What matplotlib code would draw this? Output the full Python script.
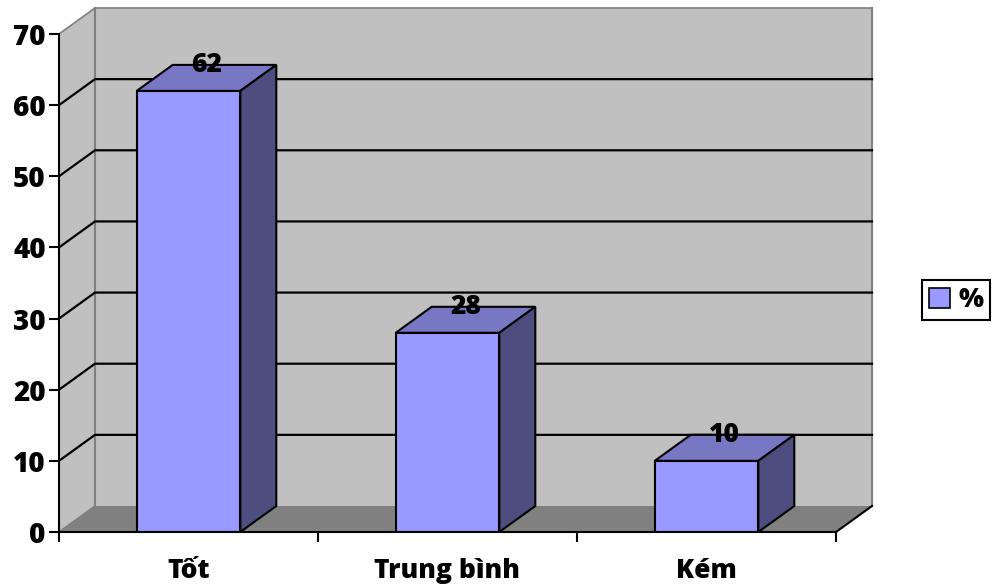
import numpy as np
import matplotlib.pyplot as plt
from matplotlib.patches import Polygon, Patch

plt.rcParams['font.family'] = ['Open Sans', 'DejaVu Sans']
plt.rcParams['font.weight'] = 'bold'

categories = ['Tốt', 'Trung bình', 'Kém']
values = [62, 28, 10]
series_name = '%'
y_ticks = [0, 10, 20, 30, 40, 50, 60, 70]

# colours of the pseudo 3d column chart
wall_col = '#c0c0c0'
floor_col = '#808080'
edge_gray = '#808080'
front_col = '#9999ff'
top_col = '#7777c4'
side_col = '#4d4d80'

fig = plt.figure(figsize=(9.98, 5.86), dpi=100)
ax = fig.add_axes([59 / 998, 54 / 586, 777 / 998, 498 / 586])
x0, x1 = -0.5, len(categories) - 0.5
y0, y1 = 0, 70
ax.set_xlim(x0, x1)
ax.set_ylim(y0, y1)
ax.patch.set_visible(False)

# depth offset in data units
dx = 36 / 259
dy = 26 / 498 * 70
bw = 0.4


def poly(pts, fc, ec='none', lw=0, z=1):
    p = Polygon(pts, closed=True, facecolor=fc, edgecolor=ec, linewidth=lw,
                zorder=z, clip_on=False, joinstyle='miter')
    ax.add_patch(p)


# back wall, side wall, floor
poly([(x0 + dx, y0 + dy), (x1 + dx, y0 + dy), (x1 + dx, y1 + dy), (x0 + dx, y1 + dy)], wall_col, z=0.5)
poly([(x0, y0), (x0 + dx, y0 + dy), (x0 + dx, y1 + dy), (x0, y1)], wall_col, z=0.5)
poly([(x0, y0), (x1, y0), (x1 + dx, y0 + dy), (x0 + dx, y0 + dy)], floor_col, z=0.6)

# wall edges
ax.plot([x0 + dx, x0 + dx], [y0 + dy, y1 + dy], color=edge_gray, lw=1.5, zorder=0.7, clip_on=False)
ax.plot([x1 + dx, x1 + dx], [y0 + dy, y1 + dy], color=edge_gray, lw=1.5, zorder=0.7, clip_on=False)
ax.plot([x0, x0 + dx, x1 + dx], [y1, y1 + dy, y1 + dy], color=edge_gray, lw=1.2, zorder=0.7, clip_on=False)
ax.plot([x0, x0 + dx], [y0, y0 + dy], color=edge_gray, lw=1.2, zorder=0.7, clip_on=False)
ax.plot([x1, x1 + dx], [y0, y0 + dy], color='black', lw=1.5, zorder=0.7, clip_on=False)

# gridlines on side and back walls
for t in y_ticks[1:-1]:
    ax.plot([x0, x0 + dx, x1 + dx], [t, t + dy, t + dy], color='black', lw=1.6,
            zorder=0.8, clip_on=False)

# columns: front face, top and side
xs = np.arange(len(categories))
ax.bar(xs, values, width=bw, color=front_col, edgecolor='black', linewidth=1.5, zorder=3)
for x, v in zip(xs, values):
    l, r = x - bw / 2, x + bw / 2
    poly([(l, v), (l + dx, v + dy), (r + dx, v + dy), (r, v)], top_col, 'black', 1.5, 2.5)
    poly([(r, 0), (r + dx, dy), (r + dx, v + dy), (r, v)], side_col, 'black', 1.5, 2.5)
    ax.text(x + dx / 2, v + dy, str(v), ha='center', va='center', fontsize=19,
            fontweight='heavy', zorder=5)

# axes
for s in ['top', 'right']:
    ax.spines[s].set_visible(False)
ax.spines['left'].set_linewidth(1.5)
ax.spines['bottom'].set_linewidth(1.5)
ax.spines['left'].set_zorder(4)
ax.spines['bottom'].set_zorder(4)

ax.set_yticks(y_ticks)
ax.set_yticklabels([str(t) for t in y_ticks], fontweight='heavy')
ax.tick_params(axis='y', length=7, width=1.5, pad=2.5, labelsize=20)
ax.set_xticks(np.arange(len(categories) + 1) - 0.5)
ax.set_xticklabels([])
ax.tick_params(axis='x', which='major', length=7, width=1.5)
ax.set_xticks(xs, minor=True)
ax.set_xticklabels(categories, minor=True, fontsize=19, fontweight='heavy')
ax.tick_params(axis='x', which='minor', length=0, pad=19)

leg = fig.legend(handles=[Patch(facecolor=front_col, edgecolor='black', linewidth=1.2)],
                 labels=[series_name], loc='center', bbox_to_anchor=(956 / 998, 1 - 300 / 586),
                 fancybox=False, framealpha=1, edgecolor='black',
                 prop={'size': 19, 'weight': 'heavy'},
                 handlelength=0.8, handleheight=0.8, handletextpad=0.3, borderpad=0.25)
leg.get_frame().set_linewidth(1.5)

fig.savefig('out.png', dpi=100)
